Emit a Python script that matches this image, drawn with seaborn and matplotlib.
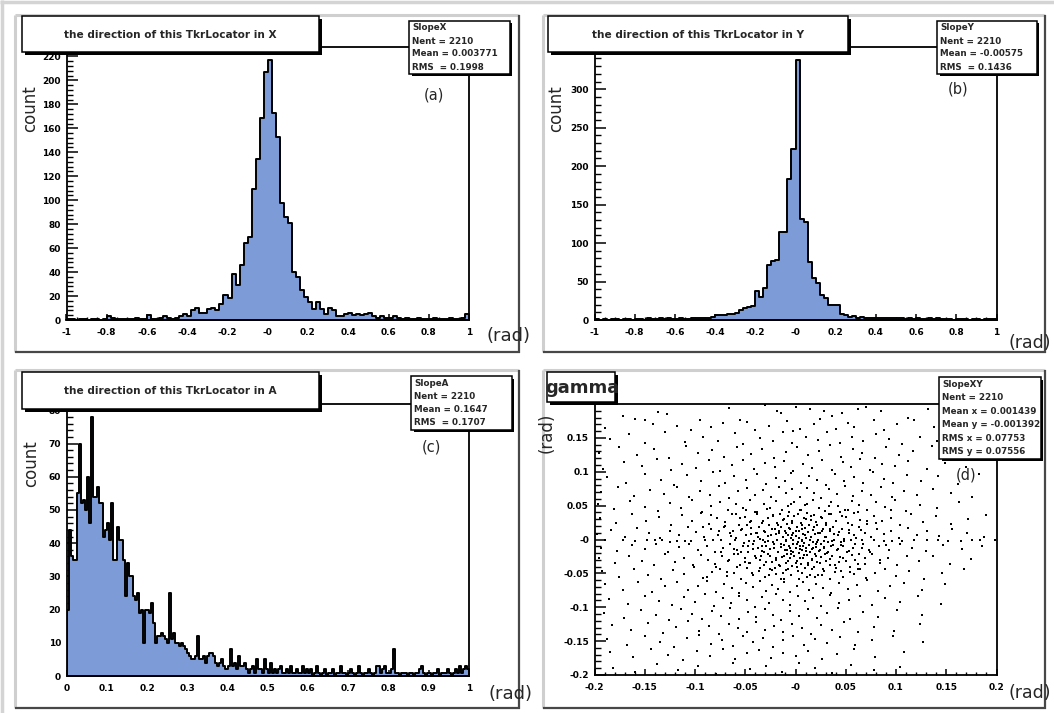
import numpy as np
import pandas as pd
import matplotlib
matplotlib.use("Agg")
import matplotlib.pyplot as plt
from matplotlib.patches import Rectangle
from matplotlib.lines import Line2D
from matplotlib.ticker import FixedLocator, MultipleLocator
import seaborn as sns

# ---------------------------------------------------------------- data
# slope in X: 100 bins on [-1, 1]
slope_x_counts = [
    1, 1, 0, 1, 1, 0, 1, 1, 0, 1,
    3, 2, 1, 1, 1, 1, 1, 2, 1, 1,
    4, 1, 1, 2, 3, 2, 1, 2,
    3, 5, 3, 8, 10, 6, 6, 9, 10, 8, 13, 21,
    18, 38, 29, 46, 64, 69, 109, 134, 169, 207,
    217, 173, 153, 98, 86, 81, 40, 36, 25, 19, 15,
    9, 15, 9, 5, 10, 8, 3, 3, 5, 6, 4, 5,
    4, 5, 6, 3, 2, 3, 2, 2, 3, 2, 1, 2, 1, 1, 2, 1, 1, 1, 2, 1, 1, 1, 2, 1, 1, 2, 5,
]
# slope in Y: 100 bins on [-1, 1]
slope_y_counts = [
    1, 0, 1, 0, 1, 1, 0, 1, 1, 0,
    1, 1, 0, 2, 1, 1, 3, 1, 3, 1,
    1, 2, 1, 1, 2, 3, 3, 2, 2,
    4, 6, 6, 7, 8, 8, 9, 13, 16, 17, 18,
    38, 30, 42, 72, 77, 78, 114, 114, 183, 222,
    338, 131, 127, 76, 54, 48, 33, 28, 19, 19, 19,
    8, 6, 4, 5, 3, 4, 3, 2, 3, 2,
    2, 3, 2, 3, 2, 2, 1, 2, 1, 2,
    1, 1, 2, 1, 2, 1, 1, 1, 0, 1,
    1, 1, 0, 1, 1, 0, 1, 1, 1,
]
# opening angle: 200 bins on [0, 1]
slope_a_counts = [
    20, 44, 36, 35, 35, 55, 70, 52, 53, 50, 60, 46, 78, 54, 54, 57, 52, 52, 42, 44,
    46, 41, 52, 35, 35, 45, 41, 41, 35, 24, 34, 30, 30, 24, 23, 25, 19, 20, 10, 20,
    20, 19, 22, 16, 10, 12, 12, 13, 12, 11, 10, 25, 11, 13, 10, 10, 9, 10, 9, 8,
    7, 6, 5, 5, 6, 12, 5, 5, 6, 4, 6, 7, 7, 6, 4, 3, 4, 5, 3, 2,
    3, 8, 3, 4, 2, 6, 3, 3, 4, 2, 1, 2, 3, 1, 5, 2, 2, 1, 5, 2,
    1, 4, 1, 2, 1, 2, 3, 1, 1, 2, 1, 3, 1, 1, 2, 1, 1, 3, 1, 2,
    1, 2, 0, 1, 3, 1, 0, 1, 2, 0, 1, 1, 2, 0, 1, 1, 3, 1, 1, 0,
    1, 2, 1, 0, 1, 3, 1, 0, 1, 1, 2, 1, 0, 1, 3, 3, 1, 2, 3, 1,
    1, 2, 8, 1, 1, 0, 1, 1, 1, 0, 1, 1, 0, 1, 1, 2, 3, 1, 0, 1,
    1, 0, 1, 1, 2, 0, 1, 1, 1, 2, 1, 0, 1, 2, 1, 3, 1, 2, 3, 2,
]
# gamma direction (slope x, slope y) in mrad, whole window
gamma_slope_mrad = [
    (-150,176),(-137,188),(-128,185),(-95,176),(-55,176),(-48,173),(-30,198),(-18,190),(-14,186),(0,196),
    (14,192),(28,190),(36,183),(46,186),(62,192),(70,196),(85,190),(112,180),(132,192),(160,184),(-172,182),(-66,194),
    (-190,165),(-160,178),(-142,170),(-104,162),(-84,166),(-72,172),(-40,161),(-26,168),(-8,175),(4,163),(18,170),
    (24,178),(40,163),(52,172),(58,166),(78,176),(88,161),(101,170),(118,176),(138,166),(152,178),(176,170),(-118,168),(-2,160),
    (-185,148),(-166,156),(-150,142),(-130,158),(-110,144),(-92,152),(-77,146),(-60,157),(-52,141),(-35,150),(-22,146),
    (-12,158),(-3,143),(10,152),(22,147),(31,158),(44,142),(56,151),(67,145),(80,156),(93,149),(106,141),(124,152),(141,146),(163,157),(185,144),
    (-196,128),(-176,136),(-158,124),(-141,133),(-126,121),(-109,138),(-97,127),(-83,132),(-71,122),(-58,137),(-44,126),(-33,134),
    (-21,121),(-9,129),(1,137),(12,124),(23,131),(34,139),(45,122),(57,133),(66,127),(79,120),(90,136),(103,125),(117,131),(136,138),(158,123),(178,132),
    (-192,104),(-171,115),(-153,108),(-138,119),(-124,102),(-113,112),(-99,106),(-86,117),(-75,101),(-63,110),(-52,118),(-41,104),(-30,113),
    (-20,107),(-11,116),(-2,101),(7,111),(16,105),(26,118),(36,103),(47,114),(55,107),(64,119),(74,102),(86,112),(99,108),(112,116),(131,104),(149,113),(170,107),
    (-188,92),(-169,84),(-150,97),(-134,88),(-121,81),(-108,95),(-94,86),(-82,99),(-70,83),(-61,93),(-49,88),(-38,96),(-29,82),(-19,91),(-10,86),(-4,98),
    (5,84),(13,94),(21,88),(30,81),(39,97),(48,86),(58,92),(67,83),(77,99),(88,90),(97,84),(111,95),(125,87),(142,93),(162,82),(183,96),
    (-194,70),(-177,78),(-161,64),(-145,73),(-131,67),(-118,77),(-106,62),(-95,72),(-85,66),(-76,79),(-66,61),(-57,71),(-48,76),(-40,65),(-32,73),(-24,62),(-16,78),(-9,68),
    (-3,74),(4,63),(11,76),(18,69),(25,61),(33,74),(41,67),(49,79),(57,64),(66,72),(75,66),(85,77),(96,62),(108,71),(121,65),(137,75),(155,68),(176,63),
    (-197,52),(-181,45),(-165,57),(-150,48),(-137,42),(-125,54),(-114,47),(-103,58),(-93,41),(-84,50),(-75,56),(-67,44),(-59,52),(-52,47),(-45,58),(-38,41),(-31,53),(-25,46),(-19,57),(-13,43),
    (-7,50),(-1,55),(5,44),(11,52),(17,59),(23,47),(29,42),(35,55),(42,49),(49,44),(56,57),(63,51),(71,43),(80,55),(89,48),(99,58),(110,42),(124,51),(141,46),(163,55),
    (-195,31),(-179,24),(-163,37),(-149,28),(-136,33),(-124,22),(-113,36),(-103,27),(-94,39),(-86,23),(-78,31),(-70,26),(-63,37),(-56,21),(-50,33),(-44,28),
    (-38,38),(-33,24),(-27,31),(-22,36),(-17,22),(-12,29),(-7,34),(-3,25),(2,38),(6,21),(10,30),(15,35),(20,26),(25,33),(30,22),(35,37),
    (40,28),(46,34),(52,24),(58,39),(64,29),(71,23),(78,35),(86,27),(95,32),(104,21),(115,38),(127,26),(140,34),(155,23),(172,30),(190,36),
    (-198,8),(-184,14),(-170,4),(-158,17),(-146,9),(-135,2),(-125,13),(-116,6),(-107,18),(-99,11),(-91,3),(-84,15),(-77,7),(-71,19),(-65,10),
    (-59,2),(-54,14),(-49,6),(-44,17),(-39,9),(-35,1),(-31,12),(-27,5),(-23,16),(-19,8),(-16,13),(-12,3),(-9,10),(-6,17),(-3,6),
    (0,12),(3,2),(6,15),(9,7),(12,11),(15,4),(18,18),(22,9),(26,13),(30,3),(34,16),(38,8),(43,11),(48,1),(53,14),
    (58,6),(63,18),(69,10),(75,4),(81,15),(88,8),(95,12),(103,2),(112,17),(121,7),(131,13),(143,5),(156,16),(171,9),(188,3),
    (-190,-1),(-172,-1),(-160,-2),(-148,-1),(-133,-1),(-118,-2),(-104,-2),(-90,-1),(-74,-1),(-60,-1),(-46,-2),(-32,-1),
    (-18,-1),(14,-1),(36,-2),(55,-1),(78,-1),(96,-2),(118,-1),(142,-1),(165,-2),(184,-1),(199,-1),
    (-194,-12),(-178,-17),(-163,-8),(-150,-14),(-139,-6),(-127,-19),(-116,-11),(-106,-7),(-97,-15),(-88,-9),(-80,-18),(-72,-12),
    (-65,-6),(-58,-16),(-52,-10),(-47,-19),(-42,-7),(-37,-13),(-33,-17),(-29,-9),(-25,-14),(-21,-6),(-17,-18),(-14,-11),
    (-11,-8),(-8,-15),(-5,-12),(-2,-19),(1,-7),(4,-14),(7,-10),(10,-17),(13,-8),(17,-13),(20,-6),(24,-16),(28,-11),(32,-19),
    (37,-8),(42,-14),(47,-10),(53,-17),(59,-7),(66,-13),(74,-18),(83,-9),(93,-15),(104,-6),(116,-12),(130,-17),(147,-8),(166,-14),(186,-10),
    (-196,-28),(-180,-35),(-166,-24),(-153,-31),(-141,-38),(-130,-22),(-120,-33),(-111,-27),(-102,-37),(-94,-23),(-87,-30),(-80,-36),(-73,-25),
    (-67,-32),(-61,-21),(-55,-38),(-50,-28),(-45,-34),(-40,-24),(-35,-30),(-31,-37),(-27,-22),(-23,-33),(-19,-27),(-15,-39),(-11,-25),
    (-7,-31),(-4,-21),(0,-35),(4,-28),(8,-23),(12,-37),(16,-30),(20,-25),(24,-34),(29,-21),(34,-29),(39,-38),(44,-26),
    (50,-32),(56,-23),(62,-36),(69,-28),(76,-22),(84,-34),(92,-27),(101,-37),(111,-24),(123,-31),(137,-25),(154,-36),(175,-29),
    (-193,-47),(-176,-55),(-161,-43),(-147,-52),(-134,-58),(-122,-45),(-111,-51),(-101,-41),(-92,-57),(-83,-48),(-75,-44),(-68,-54),(-61,-49),(-54,-59),
    (-48,-42),(-42,-53),(-36,-46),(-30,-56),(-25,-43),(-19,-51),(-14,-58),(-9,-45),(-4,-53),(1,-41),(6,-49),(11,-56),(16,-44),(22,-52),
    (28,-47),(34,-58),(40,-42),(47,-55),(54,-48),(62,-44),(70,-57),(79,-50),(89,-43),(100,-54),(113,-46),(128,-59),(146,-49),(168,-44),
    (-190,-66),(-172,-74),(-157,-62),(-143,-77),(-130,-68),(-118,-63),(-107,-75),(-97,-69),(-88,-61),(-79,-78),(-71,-65),(-63,-72),
    (-56,-79),(-49,-64),(-42,-70),(-35,-61),(-29,-76),(-23,-67),(-17,-73),(-11,-62),(-5,-78),(1,-68),(7,-63),(13,-75),
    (20,-66),(27,-71),(35,-79),(43,-64),(52,-73),(61,-67),(71,-60),(82,-76),(94,-69),(108,-64),(126,-74),(149,-66),
    (-186,-88),(-167,-95),(-150,-83),(-136,-91),(-123,-97),(-111,-85),(-100,-92),(-90,-81),(-81,-98),(-72,-87),(-64,-94),(-56,-83),
    (-48,-90),(-40,-99),(-33,-85),(-26,-93),(-19,-81),(-12,-89),(-5,-96),(2,-84),(9,-91),(17,-87),(25,-98),(34,-82),
    (43,-94),(53,-89),(64,-84),(76,-97),(89,-86),(104,-92),(122,-83),(145,-95),
    (-191,-108),(-171,-116),(-154,-104),(-139,-112),(-126,-119),(-114,-103),(-103,-110),(-93,-117),(-83,-105),(-74,-113),
    (-65,-101),(-56,-118),(-47,-107),(-39,-114),(-30,-102),(-22,-111),(-14,-119),(-5,-106),(3,-113),(12,-103),
    (21,-116),(31,-109),(42,-101),(54,-118),(67,-107),(82,-114),(101,-104),(126,-112),
    (-183,-126),(-164,-134),(-147,-123),(-132,-138),(-119,-129),(-107,-121),(-96,-135),(-86,-127),(-76,-139),(-66,-124),
    (-57,-131),(-48,-137),(-39,-122),(-30,-133),(-21,-128),(-12,-136),(-3,-124),(6,-131),(15,-139),(25,-126),
    (36,-133),(48,-122),(62,-137),(78,-129),(98,-135),(124,-125),
    (-188,-147),(-168,-155),(-150,-143),(-135,-152),(-121,-158),(-108,-146),(-96,-141),(-84,-154),(-73,-148),(-62,-157),
    (-52,-143),(-42,-151),(-32,-145),(-22,-158),(-12,-149),(-2,-142),(8,-155),(19,-147),(31,-153),(44,-144),(59,-156),(76,-149),(97,-142),(127,-151),
    (-185,-166),(-162,-174),(-144,-162),(-127,-170),(-112,-178),(-98,-165),(-85,-172),(-72,-161),(-60,-176),(-48,-168),
    (-36,-163),(-24,-175),(-12,-167),(0,-172),(12,-164),(26,-177),(41,-169),(58,-162),(79,-174),(108,-166),
    (-182,-189),(-160,-196),(-138,-184),(-117,-193),(-97,-186),(-79,-198),(-62,-183),(-45,-191),(-29,-187),(-13,-195),
    (3,-182),(19,-190),(36,-197),(55,-185),(78,-192),(104,-188),
]
# gamma direction, dense core around the beam axis (mrad)
gamma_core_mrad = [
    (-62,12),(-57,-22),(-55,31),(-51,-5),(-48,22),(-46,-35),(-44,8),(-42,-14),(-40,40),(-39,-27),
    (-37,3),(-36,18),(-35,-42),(-33,-9),(-32,27),(-31,-19),(-30,11),(-29,-33),(-28,45),(-27,-2),
    (-26,21),(-25,-24),(-24,6),(-23,-45),(-22,34),(-21,-12),(-20,15),(-19,-30),(-18,0),(-18,25),
    (-17,-18),(-16,9),(-16,-38),(-15,38),(-14,-6),(-14,19),(-13,-26),(-12,4),(-12,-50),(-11,30),
    (-10,-15),(-10,12),(-9,-35),(-9,-1),(-8,23),(-8,-21),(-7,7),(-7,-44),(-6,41),(-6,-10),
    (-5,16),(-5,-28),(-4,2),(-4,-17),(-3,28),(-3,-39),(-2,10),(-2,-7),(-1,-24),(-1,35),
    (0,-13),(0,5),(1,-31),(1,19),(2,-3),(2,-47),(3,13),(3,-20),(4,44),(4,-9),
    (5,25),(5,-36),(6,-1),(6,-16),(7,8),(7,-27),(8,32),(8,-5),(9,-42),(9,17),
    (10,-12),(10,2),(11,-23),(11,39),(12,-34),(12,11),(13,-8),(13,22),(14,-19),(14,-52),
    (15,4),(15,29),(16,-14),(16,-29),(17,14),(17,-4),(18,-40),(18,36),(19,-22),(19,8),
    (20,-11),(21,21),(21,-33),(22,-1),(23,-17),(23,46),(24,10),(25,-26),(25,-6),(26,31),
    (27,-44),(27,16),(28,-13),(29,3),(30,-31),(30,24),(31,-20),(32,-3),(33,37),(34,-38),
    (34,12),(35,-10),(36,-24),(37,19),(38,-1),(39,-48),(40,28),(41,-16),(42,6),(43,-33),
    (44,41),(45,-8),(46,15),(47,-27),(48,-2),(50,33),(51,-19),(53,9),(54,-40),(56,22),
    (57,-12),(59,-30),(60,2),(62,40),(63,-22),(65,14),(67,-6),(69,-36),(71,27),(73,-15),
    (-66,-30),(-64,5),(-61,-14),(-59,38),(-58,-40),(-54,-18),(-53,16),(-50,-33),(-49,44),(-47,-9),
    (-45,26),(-43,-49),(-41,-2),(-38,10),(-34,-25),(-26,-53),(-20,-42),(-11,-58),(-4,52),(3,-58),
    (9,51),(19,-55),(26,-52),(33,50),(45,-46),(52,44),(58,-51),(64,-44),(-70,20),(-68,-48),
    (-30,-4),(-22,-3),(-9,-2),(-2,-1),(6,-2),(21,-3),(28,-2),(45,-3),(66,-1),(88,-2),
    (-82,-1),(-110,-2),(-125,-3),(-140,-1),(106,-2),(131,-1),(152,-2),(176,-1),
    (-84,36),(-79,-40),(-76,12),(-74,-18),(80,25),(84,-30),(90,-8),(95,44),(-88,-55),(-92,18),
]

x_ticks_slope = [-1, -0.8, -0.6, -0.4, -0.2, 0, 0.2, 0.4, 0.6, 0.8, 1]
x_labels_slope = ["-1", "-0.8", "-0.6", "-0.4", "-0.2", "-0", "0.2", "0.4", "0.6", "0.8", "1"]
x_ticks_angle = [0, 0.1, 0.2, 0.3, 0.4, 0.5, 0.6, 0.7, 0.8, 0.9, 1]
x_labels_angle = ["0", "0.1", "0.2", "0.3", "0.4", "0.5", "0.6", "0.7", "0.8", "0.9", "1"]
gamma_ticks = [-0.2, -0.15, -0.1, -0.05, 0, 0.05, 0.1, 0.15, 0.2]
gamma_x_labels = ["-0.2", "-0.15", "-0.1", "-0.05", "-0", "0.05", "0.1", "0.15", "0.2"]
gamma_y_labels = ["-0.2", "-0.15", "-0.1", "-0.05", "-0", "0.05", "0.1", "0.15", ""]

titles = [
    "the direction of this TkrLocator in X",
    "the direction of this TkrLocator in Y",
    "the direction of this TkrLocator in A",
    "gamma",
]
stats_x = ["SlopeX", "Nent = 2210", "Mean = 0.003771", "RMS  = 0.1998"]
stats_y = ["SlopeY", "Nent = 2210", "Mean = -0.00575", "RMS  = 0.1436"]
stats_a = ["SlopeA", "Nent = 2210", "Mean = 0.1647", "RMS  = 0.1707"]
stats_g = ["SlopeXY", "Nent = 2210", "Mean x = 0.001439", "Mean y = -0.001392",
           "RMS x = 0.07753", "RMS y = 0.07556"]

# ---------------------------------------------------------------- style
sns.set_theme(style="white")
plt.rcParams["font.family"] = ["DejaVu Sans"]

FILL = "#7d9bd7"
W, H = 1054, 713
fig = plt.figure(figsize=(W / 100, H / 100), dpi=100)
fig.patch.set_facecolor("white")


def fbox(x0, y0, x1, y1):
    """pixel box (top-left origin) -> figure fraction [l, b, w, h]"""
    return [x0 / W, 1 - y1 / H, (x1 - x0) / W, (y1 - y0) / H]


def fline(xs, ys, color, lw):
    fig.add_artist(Line2D([x / W for x in xs], [1 - y / H for y in ys],
                          color=color, lw=lw, transform=fig.transFigure,
                          solid_capstyle="butt", zorder=0.5))


def shadow_box(x0, y0, x1, y1, sh=3, z=5):
    fig.add_artist(Rectangle(((x0 + sh) / W, 1 - y1 / H), (x1 - x0 - sh) / W,
                             (y1 - y0 - sh) / H, transform=fig.transFigure,
                             facecolor="black", edgecolor="none", zorder=z))
    fig.add_artist(Rectangle((x0 / W, 1 - (y1 - sh) / H), (x1 - x0 - sh) / W,
                             (y1 - y0 - sh) / H, transform=fig.transFigure,
                             facecolor="white", edgecolor="black", lw=1.1, zorder=z + 0.1))


def ftext(x, y, s, **kw):
    kw.setdefault("zorder", 7)
    fig.text(x / W, 1 - y / H, s, **kw)


# canvas edge and pad bevels
fline([0, W], [1.5, 1.5], "#d4d4d4", 2.5)
fline([1.5, 1.5], [0, H], "#d4d4d4", 2.5)
pads = [(15, 15, 519, 352), (543, 15, 1045, 352), (15, 370, 519, 708), (543, 370, 1045, 708)]
for x0, y0, x1, y1 in pads:
    fline([x0, x1], [y0, y0], "#cfcfcf", 2.2)
    fline([x0, x0], [y0, y1], "#cfcfcf", 2.2)
    fline([x1, x1], [y0, y1 + 1], "#474747", 1.6)
    fline([x0, x1 + 1], [y1, y1], "#474747", 1.6)

ax_a = fig.add_axes(fbox(66.5, 47, 469, 320))
ax_b = fig.add_axes(fbox(594.5, 47, 996.5, 320))
ax_c = fig.add_axes(fbox(66.5, 404, 469, 676))
ax_d = fig.add_axes(fbox(594.5, 404, 996.5, 675))

tick_font = dict(fontsize=6.5, fontweight="bold")


def style_axes(ax, xticks, xlabels, xminor, yticks, ylabels, yminor):
    ax.set_facecolor("white")
    for sp in ax.spines.values():
        sp.set_visible(True)
        sp.set_color("black")
        sp.set_linewidth(1.3)
    ax.xaxis.set_major_locator(FixedLocator(xticks))
    ax.set_xticklabels(xlabels, **tick_font)
    ax.yaxis.set_major_locator(FixedLocator(yticks))
    ax.set_yticklabels(ylabels, **tick_font)
    ax.xaxis.set_minor_locator(MultipleLocator(xminor))
    ax.yaxis.set_minor_locator(MultipleLocator(yminor))
    ax.tick_params(axis="x", which="major", direction="in", length=4.5, width=1.1,
                   pad=5.5, bottom=True, top=False, colors="black")
    ax.tick_params(axis="x", which="minor", direction="in", length=2.5, width=1.0,
                   bottom=True, top=False, colors="black")
    ax.tick_params(axis="y", which="major", direction="in", length=8, width=1.1,
                   pad=4, left=True, right=False, colors="black")
    ax.tick_params(axis="y", which="minor", direction="in", length=4, width=1.0,
                   left=True, right=False, colors="black")
    ax.set_xlabel("")
    ax.set_ylabel("")
    ax.grid(False)


def draw_hist(ax, counts, lo, hi):
    counts = np.asarray(counts, dtype=float)
    nbins = len(counts)
    width = (hi - lo) / nbins
    centers = lo + width * (np.arange(nbins) + 0.5)
    df = pd.DataFrame({"value": centers, "entries": counts})
    sns.histplot(data=df, x="value", weights="entries", bins=nbins, binrange=(lo, hi),
                 element="step", fill=True, color=FILL, edgecolor="black",
                 linewidth=1.4, alpha=1, ax=ax)
    ax.set_xlim(lo, hi)
    ax.set_ylim(0, 1.05 * counts.max())


draw_hist(ax_a, slope_x_counts, -1, 1)
style_axes(ax_a, x_ticks_slope, x_labels_slope, 0.05,
           list(range(0, 221, 20)), [str(v) for v in range(0, 221, 20)], 4)

draw_hist(ax_b, slope_y_counts, -1, 1)
style_axes(ax_b, x_ticks_slope, x_labels_slope, 0.05,
           list(range(0, 351, 50)), [str(v) for v in range(0, 351, 50)], 10)

draw_hist(ax_c, slope_a_counts, 0, 1)
style_axes(ax_c, x_ticks_angle, x_labels_angle, 0.02,
           list(range(0, 81, 10)), [str(v) for v in range(0, 81, 10)], 2)

pts = np.array(gamma_slope_mrad + gamma_core_mrad, dtype=float) / 1000.0
gdf = pd.DataFrame({"sx": pts[:, 0], "sy": pts[:, 1]})
sns.scatterplot(data=gdf, x="sx", y="sy", s=3, marker="s", color="black",
                linewidth=0, ax=ax_d, legend=False)
ax_d.set_xlim(-0.2, 0.2)
ax_d.set_ylim(-0.2, 0.2)
style_axes(ax_d, gamma_ticks, gamma_x_labels, 0.01, gamma_ticks, gamma_y_labels, 0.01)

# title boxes
title_boxes = [(22, 16, 322, 55), (548, 16, 851, 55), (22, 372, 322, 412)]
for (x0, y0, x1, y1), t in zip(title_boxes, titles[:3]):
    shadow_box(x0, y0, x1, y1)
    ftext((x0 + x1 - 3) / 2, (y0 + y1 - 3) / 2 + 1, t, ha="center", va="center",
          fontsize=7.6, fontweight="bold")
shadow_box(547, 372, 618, 405)
ftext(582, 388, titles[3], ha="center", va="center", fontsize=13, fontweight="bold")

# statistics boxes
stat_boxes = [((409, 21, 512, 76), stats_x), ((937, 21, 1039, 76), stats_y),
              ((411, 376, 514, 432), stats_a), ((939, 377, 1043, 461), stats_g)]
for (x0, y0, x1, y1), lines in stat_boxes:
    shadow_box(x0, y0, x1, y1, sh=2.5)
    n = len(lines)
    step = (y1 - y0 - 3) / n
    for i, s in enumerate(lines):
        ftext(x0 + 3, y0 + step * (i + 0.5) + 0.5, s, ha="left", va="center",
              fontsize=6.3, fontweight="bold")

# axis titles
ftext(30, 109, "count", rotation=90, ha="center", va="center", fontsize=12)
ftext(556, 109, "count", rotation=90, ha="center", va="center", fontsize=12)
ftext(31, 464, "count", rotation=90, ha="center", va="center", fontsize=12)
ftext(547, 433, "(rad)", rotation=90, ha="center", va="center", fontsize=12)
ftext(508, 336, "(rad)", ha="center", va="center", fontsize=13)
ftext(1030, 343, "(rad)", ha="center", va="center", fontsize=12.5)
ftext(510, 694, "(rad)", ha="center", va="center", fontsize=13)
ftext(1030, 693, "(rad)", ha="center", va="center", fontsize=12.5)

# panel tags
for (x, y), tag in zip([(434, 95), (958, 89), (431, 447), (966, 475)],
                       ["(a)", "(b)", "(c)", "(d)"]):
    ftext(x, y, tag, ha="center", va="center", fontsize=10.5)

fig.savefig("out.png", dpi=100, facecolor="white")
